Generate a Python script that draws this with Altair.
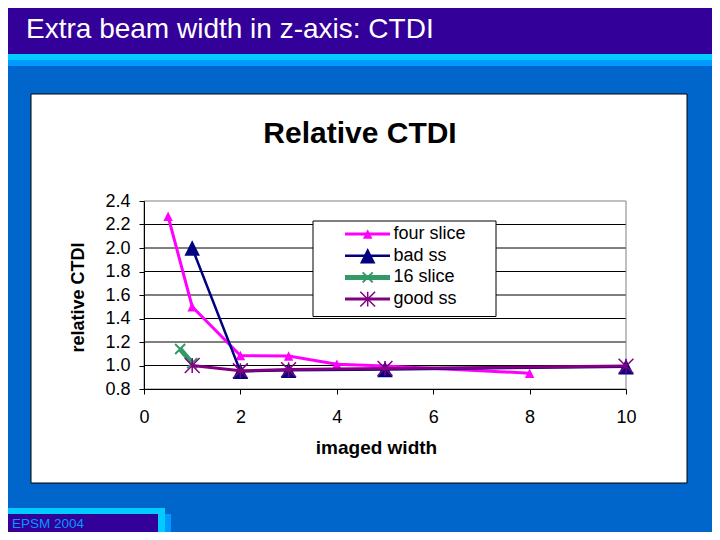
import altair as alt
import pandas as pd

# ---------------- data ----------------
series_names = ["four slice", "bad ss", "16 slice", "good ss"]
four_x = [0.5, 1, 2, 3, 4, 5, 8]
four_y = [2.27, 1.50, 1.085, 1.08, 1.01, 0.995, 0.935]
bad_x = [1, 2, 3, 5, 10]
bad_y = [2.00, 0.95, 0.96, 0.965, 0.99]
s16_x = [0.75, 1]
s16_y = [1.14, 1.02]
good_x = [1, 2, 3, 5, 10]
good_y = [1.00, 0.955, 0.965, 0.975, 0.995]
x_ticks = [0, 2, 4, 6, 8, 10]
y_ticks = [0.8, 1.0, 1.2, 1.4, 1.6, 1.8, 2.0, 2.2, 2.4]

slide_title = "Extra beam width in z-axis: CTDI"
chart_title = "Relative CTDI"
x_title = "imaged width"
y_title = "relative CTDI"
footer = "EPSM 2004"

# ---------------- styling ----------------
FONT = "Liberation Sans, Arial, sans-serif"
W, H = 482, 188
TRI = "M0,-1L1,1L-1,1Z"
XP = "M-1,-1L1,1M-1,1L1,-1"
AST = "M-1,-1L1,1M-1,1L1,-1M0,-1L0,1"
styles = {
    "four slice": dict(color="#FF00FF", lw=3, shape=TRI, size=90, filled=True, msw=1),
    "bad ss": dict(color="#000080", lw=2.5, shape=TRI, size=240, filled=True, msw=1),
    "16 slice": dict(color="#339966", lw=5, shape=XP, size=100, filled=False, msw=2),
    "good ss": dict(color="#800080", lw=3, shape=AST, size=220, filled=False, msw=1.5),
}
series_data = {
    "four slice": (four_x, four_y),
    "bad ss": (bad_x, bad_y),
    "16 slice": (s16_x, s16_y),
    "good ss": (good_x, good_y),
}

one = pd.DataFrame({"k": [0]})

X = alt.X("x:Q",
          scale=alt.Scale(domain=[0, 10], nice=False, zero=False),
          axis=alt.Axis(values=x_ticks, format="d", grid=False,
                        domainColor="black", tickColor="black", tickSize=5,
                        labelFont=FONT, labelFontSize=18, labelColor="black",
                        labelPadding=14, labelFlush=False, labelOverlap=False,
                        title=x_title, titleFont=FONT, titleFontSize=19,
                        titleFontWeight="bold", titleColor="black",
                        titleX=232, titleY=64, titleBaseline="alphabetic",
                        titleAlign="center", zindex=1))
Y = alt.Y("y:Q",
          scale=alt.Scale(domain=[0.8, 2.4], nice=False, zero=False),
          axis=alt.Axis(values=y_ticks, format=".1f", grid=False,
                        domainColor="black", tickColor="black", tickSize=5,
                        labelFont=FONT, labelFontSize=18, labelColor="black",
                        labelPadding=9, labelFlush=False, labelOverlap=False,
                        title=y_title, titleFont=FONT, titleFontSize=18,
                        titleFontWeight="bold", titleColor="black",
                        titleAngle=270, titleX=-61, titleY=96,
                        titleBaseline="alphabetic", titleAlign="center",
                        zindex=1))


def box(x1, x2, y1, y2, fill, stroke=None, sw=0):
    kw = dict(fill=fill)
    if stroke:
        kw.update(stroke=stroke, strokeWidth=sw)
    return alt.Chart(one).mark_rect(**kw).encode(
        x=alt.value(x1), x2=alt.value(x2), y=alt.value(y1), y2=alt.value(y2))


def label(txt, x, y, size, color="black", weight="normal", align="left",
          baseline="alphabetic"):
    return alt.Chart(one).mark_text(
        font=FONT, fontSize=size, fontWeight=weight, color=color,
        align=align, baseline=baseline).encode(
        x=alt.value(x), y=alt.value(y), text=alt.value(txt))


layers = []
# slide decorations
layers.append(box(-150, 580, -210, -147, "#330099"))
layers.append(box(-150, 580, -147, -141, "#00CCFF"))
layers.append(box(-150, 580, -141, -135, "#0099FF"))
layers.append(box(14, 27, 313, 345, "#0099FF"))
layers.append(box(-150, 21, 307, 331, "#00CCFF"))
layers.append(box(-150, 14, 313, 345, "#330099"))
layers.append(label(footer, -132, 326.5, 13.5, color="#0099FF"))
layers.append(label(slide_title, -118, -162.7, 28, color="white"))
# chart area
layers.append(box(-113, 543, -107, 282, "white", "black", 1))
layers.append(label(chart_title, 216, -58.3, 30, weight="bold", align="center"))

# gridlines from tick values
grid_df = pd.DataFrame({"y": y_ticks[1:-1]})
layers.append(alt.Chart(grid_df).mark_rule(color="black", strokeWidth=1).encode(
    y=Y, x=alt.value(0), x2=alt.value(W)))
# plot-area border
layers.append(alt.Chart(one).mark_rect(fill="transparent", stroke="#808080",
                                       strokeWidth=1).encode(
    x=alt.value(0), x2=alt.value(W), y=alt.value(0), y2=alt.value(H)))

# series
for name in series_names:
    xs, ys = series_data[name]
    st = styles[name]
    df = pd.DataFrame({"x": xs, "y": ys})
    base = alt.Chart(df)
    layers.append(base.mark_line(color=st["color"], strokeWidth=st["lw"]).encode(x=X, y=Y))
    layers.append(base.mark_point(shape=st["shape"], size=st["size"],
                                  filled=st["filled"], color=st["color"],
                                  strokeWidth=st["msw"], opacity=1).encode(x=X, y=Y))

# legend
layers.append(box(169, 352, 20, 115.5, "white", "black", 1))
for i, name in enumerate(series_names):
    st = styles[name]
    ly = 33 + i * 21.7
    layers.append(alt.Chart(one).mark_rule(color=st["color"], strokeWidth=st["lw"]).encode(
        x=alt.value(201), x2=alt.value(246), y=alt.value(ly)))
    layers.append(alt.Chart(one).mark_point(shape=st["shape"], size=st["size"],
                                            filled=st["filled"], color=st["color"],
                                            strokeWidth=st["msw"], opacity=1).encode(
        x=alt.value(223.7), y=alt.value(ly)))
    layers.append(label(name, 249.5, ly, 18, baseline="middle"))

chart = alt.layer(*layers).properties(
    width=W, height=H,
    padding={"left": 136, "top": 193, "right": 86, "bottom": 143},
    autosize=alt.AutoSizeParams(type="none"),
    background="#0066CC",
).configure_view(strokeWidth=0)

chart.save("out.html", embed_options={"renderer": "svg", "actions": False})
